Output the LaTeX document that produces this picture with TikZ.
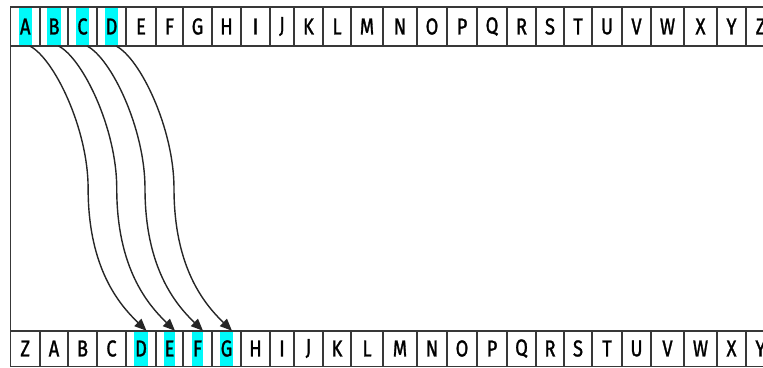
\documentclass[tikz,border=0pt]{standalone}
\usepackage{fontspec}
\setmainfont{Fira Sans}[FakeStretch=0.8, FakeBold=1.2]
\usetikzlibrary{positioning,calc,arrows.meta}

\definecolor{hlcyan}{RGB}{0,250,250}
\tikzset{
  cell/.style={draw=black!78, line width=1.5pt, outer sep=0pt, inner sep=0pt},
  txt/.style={inner xsep=1pt, inner ysep=0pt, font=\fontsize{23}{23}\selectfont},
  hl/.style={txt, fill=hlcyan},
  shiftarrow/.style={draw=black!85, line width=1.4pt, -{Triangle[length=12pt,width=10pt]}}
}

\begin{document}
\begin{tikzpicture}[x=1pt,y=1pt]
  \clip (0,0) rectangle (763,367);
  % plain alphabet
  \coordinate (t0) at (10.5,340.5);
  \foreach \l/\w [count=\i] in {A/29.5,B/28,C/29,D/29,E/30,F/27,G/29,H/29,I/29,J/24,K/29,L/28,M/32,
      N/34,O/30,P/30,Q/30,R/29,S/28,T/28,U/30,V/29,W/33,X/33,Y/29,Z/29} {
    \pgfmathtruncatemacro\p{\i-1}
    \ifnum\i<5 \def\s{hl}\else\def\s{txt}\fi
    \node[cell, minimum width=\w pt, minimum height=39pt, right=0pt of t\p] (t\i) {};
    \node[\s, minimum height=37.5pt] at (t\i) {\l};
  }
  % shifted alphabet
  \coordinate (b0) at (10.5,18.5);
  \foreach \l/\w [count=\i] in {Z/29.5,A/28,B/29,C/29,D/30,E/27,F/29,G/29,H/29,I/24,J/29,K/28,L/32,
      M/34,N/30,O/30,P/30,Q/29,R/28,S/28,T/30,U/29,V/33,W/33,X/29,Y/29} {
    \pgfmathtruncatemacro\p{\i-1}
    \def\s{txt}
    \ifnum\i>4 \ifnum\i<9 \def\s{hl}\fi\fi
    \node[cell, minimum width=\w pt, minimum height=35.5pt, right=0pt of b\p] (b\i) {};
    \node[\s, minimum height=34pt] at (b\i) {\l};
  }
  \draw[cell] (t1.south west) -- (b1.north west);
  % shift by three
  \foreach \i/\j in {1/5,2/6,3/7,4/8} {
    \coordinate (s\i) at ($(t\i.south)+(4.5,0)$);
    \coordinate (e\i) at ($(b\j.north)+(5.5,0)$);
    \coordinate (m\i) at ($(s\i)!.5!(e\i)$);
    \draw[shiftarrow] (s\i) .. controls +(24,-12) and +(0,60) .. (m\i)
      .. controls +(0,-80) and +(-27,26) .. (e\i);
  }
\end{tikzpicture}
\end{document}
